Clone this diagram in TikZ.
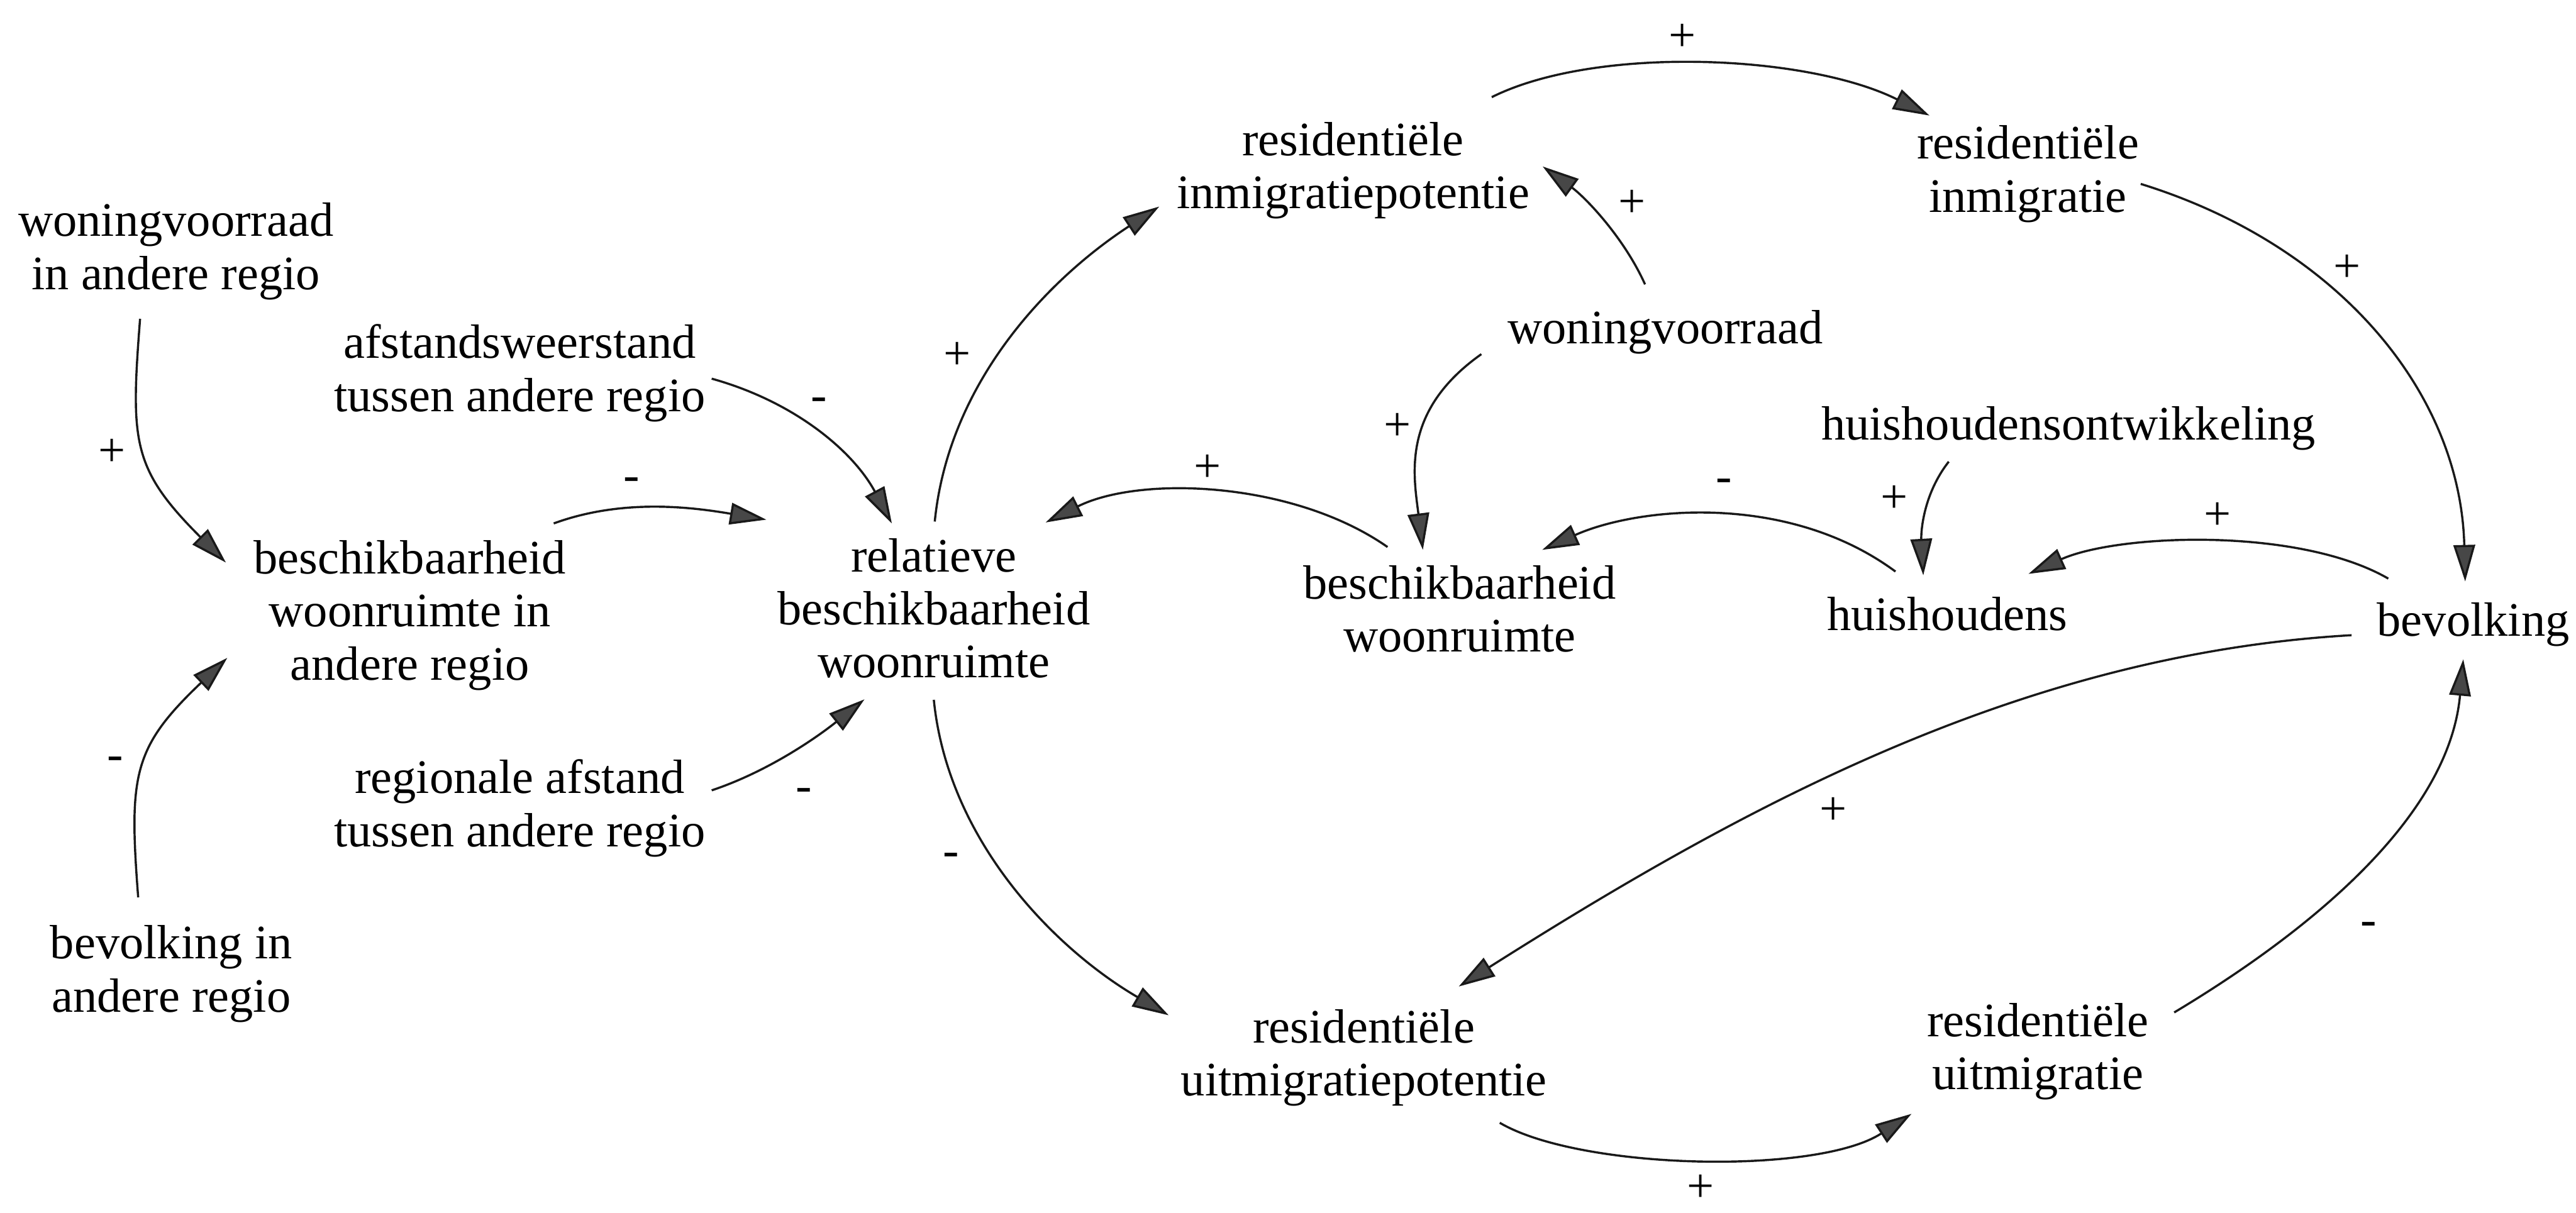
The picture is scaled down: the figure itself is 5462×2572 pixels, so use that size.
\documentclass[tikz,border=0pt]{standalone}
\usepackage{fontspec}
\setmainfont{Liberation Serif}
\usetikzlibrary{arrows.meta}
\begin{document}
\begin{tikzpicture}[x=0.01cm, y=-0.01cm,
  var/.style={inner sep=0pt, align=center, font=\fontsize{29}{32}\selectfont},
  sgn/.style={inner sep=0pt, font=\fontsize{29}{32}\selectfont},
  link/.style={line width=1.3pt, draw=black!90,
    -{Triangle[length=22pt, width=13pt, fill=black!72]}}
]
\useasboundingbox (0,0) rectangle (5462,2572);

% variables
\node[var] (wa)  at (373,533)   {woningvoorraad\\in andere regio};
\node[var] (ba)  at (869,1305)  {beschikbaarheid\\woonruimte in\\andere regio};
\node[var] (bo)  at (363,2065)  {bevolking in\\andere regio};
\node[var] (af)  at (1102,791)  {afstandsweerstand\\tussen andere regio};
\node[var] (ra)  at (1102,1714) {regionale afstand\\tussen andere regio};
\node[var] (rel) at (1980,1290) {relatieve\\beschikbaarheid\\woonruimte};
\node[var] (ip)  at (2869,362)  {residentiële\\inmigratiepotentie};
\node[var] (wv)  at (3531,705)  {woningvoorraad};
\node[var] (bw)  at (3095,1291) {beschikbaarheid\\woonruimte};
\node[var] (im)  at (4300,369)  {residentiële\\inmigratie};
\node[var] (ho)  at (4386,908)  {huishoudensontwikkeling};
\node[var] (hh)  at (4129,1302) {huishoudens};
\node[var] (bev) at (5244,1324) {bevolking};
\node[var] (up)  at (2892,2243) {residentiële\\uitmigratiepotentie};
\node[var] (um)  at (4321,2230) {residentiële\\uitmigratie};

% causal links
\draw[link] ([shift={(-76,143)}]wa.center) .. controls +(-20,260) and +(-200,-200) .. ([shift={(-390,-112)}]ba.center);
\draw[link] ([shift={(-70,-162)}]bo.center) .. controls +(-20,-260) and +(-200,190) .. ([shift={(-387,90)}]ba.center);
\draw[link] ([shift={(407,12)}]af.center) .. controls +(180,50) and +(-80,-150) .. ([shift={(-89,-180)}]rel.center);
\draw[link] ([shift={(305,-195)}]ba.center) .. controls +(150,-55) and +(-150,-25) .. ([shift={(-355,-188)}]rel.center);
\draw[link] ([shift={(407,-38)}]ra.center) .. controls +(120,-40) and +(-100,80) .. ([shift={(-147,193)}]rel.center);
\draw[link] ([shift={(2,-184)}]rel.center) .. controls +(30,-300) and +(-230,150) .. ([shift={(-411,76)}]ip.center);
\draw[link] ([shift={(0,194)}]rel.center) .. controls +(30,300) and +(-240,-140) .. ([shift={(-414,-90)}]up.center);
\draw[link] ([shift={(-153,-131)}]bw.center) .. controls +(-200,-140) and +(200,-100) .. ([shift={(237,-182)}]rel.center);
\draw[link] ([shift={(-390,46)}]wv.center) .. controls +(-170,120) and +(-20,-160) .. ([shift={(-78,-125)}]bw.center);
\draw[link] ([shift={(-43,-102)}]wv.center) .. controls +(-45,-100) and +(90,65) .. ([shift={(402,-9)}]ip.center);
\draw[link] ([shift={(294,-156)}]ip.center) .. controls +(220,-110) and +(-260,-130) .. ([shift={(-209,-124)}]im.center);
\draw[link] ([shift={(239,21)}]im.center) .. controls +(420,130) and +(-10,-400) .. ([shift={(-17,-91)}]bev.center);
\draw[link] ([shift={(-254,71)}]ho.center) .. controls +(-55,70) and +(-5,-90) .. ([shift={(-51,-82)}]hh.center);
\draw[link] ([shift={(-110,-90)}]hh.center) .. controls +(-230,-170) and +(200,-90) .. ([shift={(175,-125)}]bw.center);
\draw[link] ([shift={(-180,-97)}]bev.center) .. controls +(-190,-110) and +(190,-85) .. ([shift={(172,-85)}]hh.center);
\draw[link] ([shift={(-258,23)}]bev.center) .. controls +(-700,40) and +(600,-380) .. ([shift={(201,-151)}]up.center);
\draw[link] ([shift={(288,138)}]up.center) .. controls +(170,100) and +(-200,130) .. ([shift={(-268,132)}]um.center);
\draw[link] ([shift={(289,-83)}]um.center) .. controls +(300,-180) and +(-30,330) .. ([shift={(-21,74)}]bev.center);

% polarity signs
\node[sgn] (s1)  at (238,960)   {+};
\node[sgn] (s2)  at (244,1619)  {-};
\node[sgn] (s3)  at (1737,857)  {-};
\node[sgn] (s4)  at (1339,1027) {-};
\node[sgn] (s5)  at (1704,1686) {-};
\node[sgn] (s6)  at (2029,755)  {+};
\node[sgn] (s7)  at (2017,1823) {-};
\node[sgn] (s8)  at (2560,993)  {+};
\node[sgn] (s9)  at (2963,905)  {+};
\node[sgn] (s10) at (3460,432)  {+};
\node[sgn] (s11) at (3567,80)   {+};
\node[sgn] (s12) at (4977,569)  {+};
\node[sgn] (s13) at (3656,1029) {-};
\node[sgn] (s14) at (4016,1058) {+};
\node[sgn] (s15) at (4702,1095) {+};
\node[sgn] (s16) at (3887,1720) {+};
\node[sgn] (s17) at (3606,2520) {+};
\node[sgn] (s18) at (5022,1969) {-};
\end{tikzpicture}
\end{document}
